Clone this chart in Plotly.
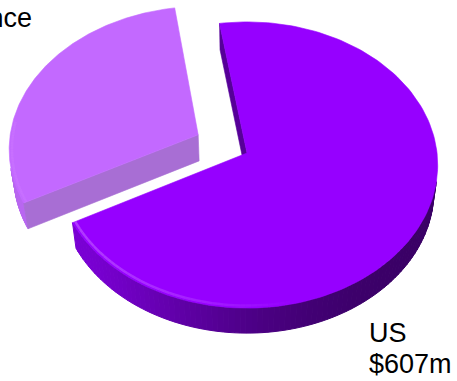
import numpy as np
import plotly.graph_objects as go

# Revenue split by market
countries = ["US", "France"]
revenue_musd = [607, 264]
value_labels = ["$607m", ""]

# Slice styling (top face, light side, dark side, radial wall)
top_colors = [(150, 0, 255), (195, 105, 255)]
side_light = [(122, 0, 212), (186, 104, 242)]
side_dark = [(58, 0, 102), (160, 90, 210)]
radial_colors = [(86, 0, 152), (168, 110, 212)]
explode = [0.0, 0.29]

START_DEG = 99.0  # angle of the first slice's leading edge, slices run clockwise

# Perspective camera for the tilted disc
PHI = np.radians(48.4)
DIST = 7.92
FOCAL = 1505.0
CX, CY = 247.0, 153.0
THICK = 0.21
W, H = 457, 381


def project(X, Z, Hh):
    s, c = np.sin(PHI), np.cos(PHI)
    depth = DIST + Z * c - Hh * s
    yc = Hh * c + Z * s
    return CX + FOCAL * X / depth, CY - FOCAL * yc / depth


def rgb(c, a=1.0):
    return f"rgba({int(c[0])},{int(c[1])},{int(c[2])},{a})"


def mix(a, b, t):
    return tuple(a[i] + (b[i] - a[i]) * t for i in range(3))


def poly(xs, ys, color, lw=0.6):
    xs = list(xs) + [xs[0]]
    ys = list(ys) + [ys[0]]
    return go.Scatter(x=xs, y=ys, mode="lines", fill="toself", fillcolor=color,
                      line=dict(color=color, width=lw), hoverinfo="skip",
                      showlegend=False)


cam = np.array([0.0, DIST * np.sin(PHI), -DIST * np.cos(PHI)])

total = float(sum(revenue_musd))
fracs = [v / total for v in revenue_musd]
slices = []
acc = 0.0
for i, f in enumerate(fracs):
    t1 = np.radians(START_DEG - acc * 360.0)
    t2 = np.radians(START_DEG - (acc + f) * 360.0)
    acc += f
    mid = (t1 + t2) / 2
    ox, oz = explode[i] * np.cos(mid), explode[i] * np.sin(mid)
    slices.append((i, t1, t2, ox, oz))

fig = go.Figure()

# draw back slice (France) first, then the US slice in front
for i, t1, t2, ox, oz in [slices[1], slices[0]]:
    thetas = np.linspace(t1, t2, 160)
    # outer wall, split into strips for shading
    for a, b in zip(thetas[:-1], thetas[1:]):
        m = (a + b) / 2
        n = np.array([np.cos(m), 0.0, np.sin(m)])
        p = np.array([ox + np.cos(m), 0.0, oz + np.sin(m)])
        if np.dot(cam - p, n) <= 0:
            continue
        shade = ((np.cos(m - np.radians(210)) + 1) / 2) ** 4
        col = mix(side_dark[i], side_light[i], shade)
        xa0, ya0 = project(ox + np.cos(a), oz + np.sin(a), 0.0)
        xb0, yb0 = project(ox + np.cos(b), oz + np.sin(b), 0.0)
        xa1, ya1 = project(ox + np.cos(a), oz + np.sin(a), -THICK)
        xb1, yb1 = project(ox + np.cos(b), oz + np.sin(b), -THICK)
        fig.add_trace(poly([xa0, xb0, xb1, xa1], [ya0, yb0, yb1, ya1], rgb(col), 1.0))
    # radial walls
    for edge, sign in ((t1, 1), (t2, -1)):
        nd = edge + sign * np.pi / 2
        n = np.array([np.cos(nd), 0.0, np.sin(nd)])
        p = np.array([ox, 0.0, oz])
        if np.dot(cam - p, n) <= 0:
            continue
        ex, ez = ox + np.cos(edge), oz + np.sin(edge)
        pts = [project(ox, oz, 0.0), project(ex, ez, 0.0),
               project(ex, ez, -THICK), project(ox, oz, -THICK)]
        fig.add_trace(poly([q[0] for q in pts], [q[1] for q in pts], rgb(radial_colors[i])))
    # top face
    xs = [project(ox, oz, 0.0)[0]] + [project(ox + np.cos(t), oz + np.sin(t), 0.0)[0] for t in thetas]
    ys = [project(ox, oz, 0.0)[1]] + [project(ox + np.cos(t), oz + np.sin(t), 0.0)[1] for t in thetas]
    fig.add_trace(poly(xs, ys, rgb(top_colors[i])))
    # soft highlight along the front rim
    rim = [t for t in thetas if np.sin(t) < 0.1]
    if rim:
        for a, b in zip(rim[:-1], rim[1:]):
            m = (a + b) / 2
            alpha = max(0.0, (np.cos(m - np.radians(200)) - 0.1)) * 0.55
            if alpha <= 0.02:
                continue
            pa = project(ox + 0.985 * np.cos(a), oz + 0.985 * np.sin(a), 0.0)
            pb = project(ox + 0.985 * np.cos(b), oz + 0.985 * np.sin(b), 0.0)
            fig.add_trace(go.Scatter(x=[pa[0], pb[0]], y=[pa[1], pb[1]], mode="lines",
                                     line=dict(color=rgb((205, 120, 255), alpha), width=2.5),
                                     hoverinfo="skip", showlegend=False))

font = dict(family="Liberation Sans, Arial, sans-serif", size=27, color="#000000")
fig.add_annotation(x=367, y=333, text=countries[0], showarrow=False,
                   xanchor="left", yanchor="middle", font=font)
fig.add_annotation(x=367, y=364, text=value_labels[0], showarrow=False,
                   xanchor="left", yanchor="middle", font=font)
fig.add_annotation(x=34, y=18, text=countries[1], showarrow=False,
                   xanchor="right", yanchor="middle", font=font)

fig.update_layout(
    width=W, height=H, margin=dict(l=0, r=0, t=0, b=0),
    paper_bgcolor="white", plot_bgcolor="white", showlegend=False,
    xaxis=dict(range=[0, W], visible=False, fixedrange=True),
    yaxis=dict(range=[H, 0], visible=False, fixedrange=True),
    hovermode=False,
)

fig.write_html("out.html", config={"displayModeBar": False})
